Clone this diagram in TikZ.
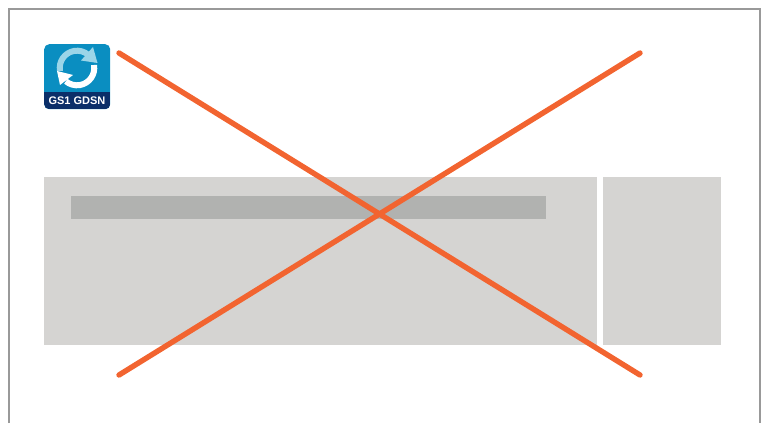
\documentclass[tikz,border=0pt]{standalone}
\usepackage{fontspec}
\setmainfont{Liberation Sans}
\usetikzlibrary{positioning}
\definecolor{framegray}{HTML}{999999}
\definecolor{panelgray}{HTML}{D5D4D2}
\definecolor{bargray}{HTML}{B1B2B0}
\definecolor{crossorange}{HTML}{F26430}
\definecolor{badgeblue}{HTML}{0A8EC1}
\definecolor{badgenavy}{HTML}{0B2F69}
\definecolor{arclight}{HTML}{9BD5E8}
\tikzset{
    panel/.style = {fill=panelgray, inner sep=0pt, minimum height=168pt},
    bar/.style   = {fill=bargray, inner sep=0pt, minimum width=475pt, minimum height=23pt},
    badge/.style = {fill=badgeblue, inner sep=0pt, minimum width=66pt, minimum height=65pt, rounded corners=5pt},
    badgetext/.style = {font=\bfseries\fontsize{11}{12}\selectfont, text=white, inner sep=0pt},
    % Edges
    cross/.style = {crossorange, line width=5.4pt, line cap=round},
    arc/.style   = {line width=6pt}
}
\begin{document}
\begin{tikzpicture}[x=1pt, y=1pt]
    \useasboundingbox (0,0) rectangle (767,423);
    \draw [framegray, line width=2pt] (9,0) -- (9,414) -- (760,414) -- (760,0);

    \node (main) [panel, anchor=north west, minimum width=553pt] at (44,246) {};
    \node (side) [panel, right=5.5pt of main, minimum width=118pt] {};
    \node (titlebar) [bar, anchor=north west] at (71,227) {};

    \node (icon) [badge, anchor=north west, path picture={
        \fill [badgenavy, sharp corners] ([yshift=17pt]path picture bounding box.south west) rectangle (path picture bounding box.south east);
    }] at (44,379) {};
    \node (iconlabel) [badgetext] at (77,322.5) {GS1 GDSN};

    % Refresh arrows
    \draw [arc, arclight] (60,352) arc (190:50:17.3);
    \fill [arclight] (97.5,360) -- (93,376) -- (81,362.5) -- cycle;
    \draw [arc, white] (94,358) arc (10:-130:17.3);
    \fill [white] (57,352) -- (73,348) -- (60,338) -- cycle;

    % Crossing out
    \coordinate (topleft) at (119,370);
    \coordinate (topright) at (640,370);
    \coordinate (bottomleft) at (119,48);
    \coordinate (bottomright) at (640,48);
    \draw [cross] (topleft) -- (bottomright);
    \draw [cross] (bottomleft) -- (topright);
\end{tikzpicture}
\end{document}
